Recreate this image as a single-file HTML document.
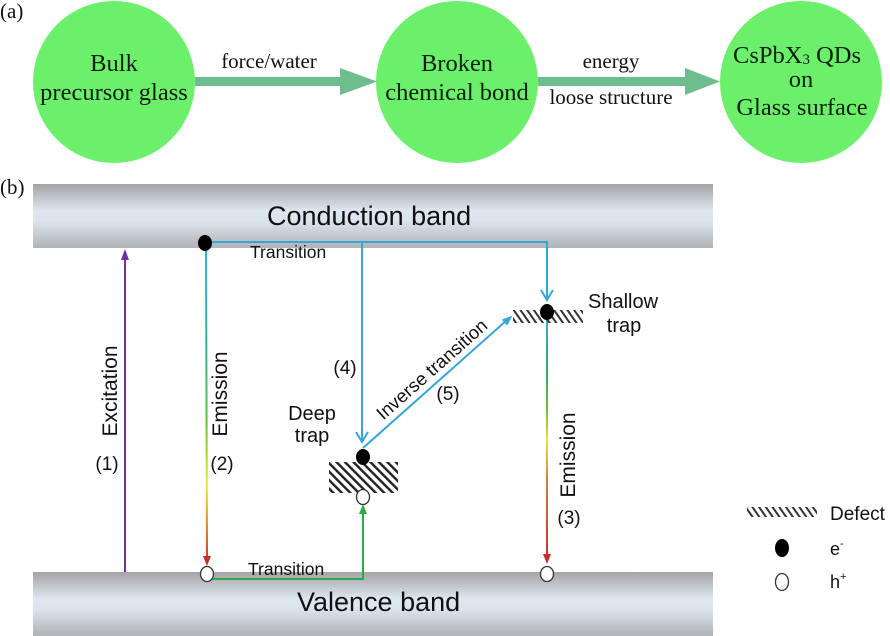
<!DOCTYPE html>
<html><head><meta charset="utf-8"><style>
html,body{margin:0;padding:0;background:#fff;}
svg{display:block;}
.s{font-family:"Liberation Serif",serif;}
.a{font-family:"Liberation Sans",sans-serif;}
</style></head><body>
<svg width="890" height="636" viewBox="0 0 890 636" xmlns="http://www.w3.org/2000/svg">
<defs>
<linearGradient id="band" x1="0" y1="0" x2="0" y2="1">
 <stop offset="0" stop-color="#a3a4a6"/>
 <stop offset="0.42" stop-color="#dee7f0"/>
 <stop offset="0.58" stop-color="#dbe4ed"/>
 <stop offset="1" stop-color="#b0b3b7"/>
</linearGradient>
<pattern id="hatch" width="6" height="6" patternUnits="userSpaceOnUse" patternTransform="rotate(-45)">
 <rect x="0" y="0" width="2.4" height="6" fill="#222"/>
</pattern>
<pattern id="hatch2" width="5.5" height="5.5" patternUnits="userSpaceOnUse" patternTransform="rotate(-35)">
 <rect x="0" y="0" width="2" height="5.5" fill="#333"/>
</pattern>
<linearGradient id="em2" gradientUnits="userSpaceOnUse" x1="0" y1="243" x2="0" y2="565">
 <stop offset="0" stop-color="#3aaed6"/>
 <stop offset="0.3" stop-color="#30b0a0"/>
 <stop offset="0.55" stop-color="#5cc23a"/>
 <stop offset="0.75" stop-color="#e8e83a"/>
 <stop offset="0.87" stop-color="#e08a30"/>
 <stop offset="1" stop-color="#c0302a"/>
</linearGradient>
<linearGradient id="em3" gradientUnits="userSpaceOnUse" x1="0" y1="318" x2="0" y2="563">
 <stop offset="0" stop-color="#3aaed6"/>
 <stop offset="0.22" stop-color="#3aa860"/>
 <stop offset="0.38" stop-color="#70c040"/>
 <stop offset="0.5" stop-color="#e8e040"/>
 <stop offset="0.66" stop-color="#d08040"/>
 <stop offset="1" stop-color="#c03030"/>
</linearGradient>
</defs>

<!-- (a) -->
<text class="s" x="0" y="18" font-size="21" fill="#111">(a)</text>
<circle cx="114" cy="82" r="81" fill="#6cf06c"/>
<circle cx="457" cy="82" r="81" fill="#6cf06c"/>
<circle cx="801" cy="82" r="81" fill="#6cf06c"/>

<rect x="195" y="77" width="146" height="9" fill="#6dbd8e"/>
<polygon points="340,68 377,81.5 340,95" fill="#6dbd8e"/>
<rect x="538" y="77" width="148" height="9" fill="#6dbd8e"/>
<polygon points="685,68 720,81.5 685,95" fill="#6dbd8e"/>

<g class="s" font-size="24.5" fill="#0e1e0e" text-anchor="middle">
 <text x="114" y="71">Bulk</text>
 <text x="114" y="100">precursor glass</text>
 <text x="457" y="71">Broken</text>
 <text x="457" y="100">chemical bond</text>
 <text x="797" y="63">CsPbX<tspan font-size="15" dy="1">3</tspan><tspan dy="-1"> QDs</tspan></text>
 <text x="801" y="87">on</text>
 <text x="802" y="115">Glass surface</text>
</g>
<g class="s" font-size="21" fill="#111" text-anchor="middle">
 <text x="269" y="68">force/water</text>
 <text x="611" y="68">energy</text>
 <text x="611" y="104">loose structure</text>
</g>

<!-- (b) -->
<text class="s" x="0" y="194" font-size="21" fill="#111">(b)</text>
<rect x="33" y="184" width="680" height="64" fill="url(#band)"/>
<rect x="33" y="572" width="680" height="64" fill="url(#band)"/>
<text class="a" x="267" y="225" font-size="27" fill="#111">Conduction band</text>
<text class="a" x="297" y="611" font-size="27" fill="#111">Valence band</text>

<!-- excitation -->
<line x1="125" y1="258" x2="125" y2="572" stroke="#7030a0" stroke-width="2"/>
<polygon points="125,249 121,260 129,260" fill="#7030a0"/>

<!-- blue transitions -->
<polyline points="205,242 547,242 547,300" fill="none" stroke="#35a6d8" stroke-width="2"/>
<polyline points="541,290 547,300 553,290" fill="none" stroke="#35a6d8" stroke-width="2"/>
<line x1="362" y1="242" x2="362" y2="442" stroke="#35a6d8" stroke-width="2"/>
<polyline points="356,432 362,442 368,432" fill="none" stroke="#35a6d8" stroke-width="2"/>
<line x1="363" y1="448" x2="507" y2="320" stroke="#35a6d8" stroke-width="2"/>
<polygon points="512.5,315.5 507.2,325.6 501.8,319.6" fill="#35a6d8"/>

<!-- emission 2 -->
<line x1="206" y1="243" x2="207" y2="558" stroke="url(#em2)" stroke-width="2"/>
<polygon points="207,566 203,556 211,556" fill="#c0302a"/>

<!-- green transition -->
<polyline points="207,579 363,579 363,512" fill="none" stroke="#2ea84a" stroke-width="2"/>
<polygon points="363,504 359,514 367,514" fill="#2ea84a"/>

<!-- emission 3 -->
<line x1="547" y1="318" x2="547" y2="556" stroke="url(#em3)" stroke-width="2"/>
<polygon points="547,564 543,554 551,554" fill="#c03030"/>

<!-- traps -->
<rect x="329" y="462" width="69" height="31" fill="url(#hatch)"/>
<rect x="513" y="310" width="70" height="13" fill="url(#hatch2)"/>

<!-- carriers -->
<ellipse cx="205" cy="243" rx="7" ry="8" fill="#000"/>
<ellipse cx="363" cy="457" rx="7" ry="8" fill="#000"/>
<ellipse cx="547" cy="312" rx="7" ry="8" fill="#000"/>
<ellipse cx="207" cy="574" rx="6.5" ry="7.5" fill="#fff" stroke="#333" stroke-width="1.3"/>
<ellipse cx="363" cy="497" rx="6.5" ry="7.5" fill="#fff" stroke="#333" stroke-width="1.3"/>
<ellipse cx="547" cy="574" rx="6.5" ry="7.5" fill="#fff" stroke="#333" stroke-width="1.3"/>

<!-- labels -->
<g class="a" fill="#111">
 <text x="250" y="258" font-size="17.5">Transition</text>
 <text x="248" y="575" font-size="17.5">Transition</text>
 <text x="312" y="420" font-size="20" text-anchor="middle">Deep</text>
 <text x="312" y="442" font-size="20" text-anchor="middle">trap</text>
 <text x="588" y="308" font-size="20">Shallow</text>
 <text x="624" y="332" font-size="20" text-anchor="middle">trap</text>
 <text x="345" y="374" font-size="19" text-anchor="middle">(4)</text>
 <text x="448" y="400" font-size="19" text-anchor="middle">(5)</text>
 <text x="107" y="470" font-size="19" text-anchor="middle">(1)</text>
 <text x="222" y="470" font-size="19" text-anchor="middle">(2)</text>
 <text x="569" y="524" font-size="19" text-anchor="middle">(3)</text>
 <text transform="translate(117,391) rotate(-90)" font-size="21" text-anchor="middle">Excitation</text>
 <text transform="translate(227,394) rotate(-90)" font-size="21" text-anchor="middle">Emission</text>
 <text transform="translate(575,455) rotate(-90)" font-size="21" text-anchor="middle">Emission</text>
 <text transform="translate(436,374) rotate(-41.5)" font-size="18.5" text-anchor="middle">Inverse transition</text>
</g>

<!-- legend -->
<rect x="747" y="507" width="70" height="10" fill="url(#hatch2)"/>
<text class="a" x="830" y="520" font-size="19" fill="#111">Defect</text>
<ellipse cx="782" cy="548" rx="7" ry="9" fill="#000"/>
<text class="a" x="830" y="555" font-size="18" fill="#111">e<tspan font-size="11" dy="-8">-</tspan></text>
<ellipse cx="782" cy="582" rx="6.5" ry="8.5" fill="#fff" stroke="#333" stroke-width="1.3"/>
<text class="a" x="830" y="588" font-size="18" fill="#111">h<tspan font-size="11" dy="-8">+</tspan></text>
</svg>
</body></html>
